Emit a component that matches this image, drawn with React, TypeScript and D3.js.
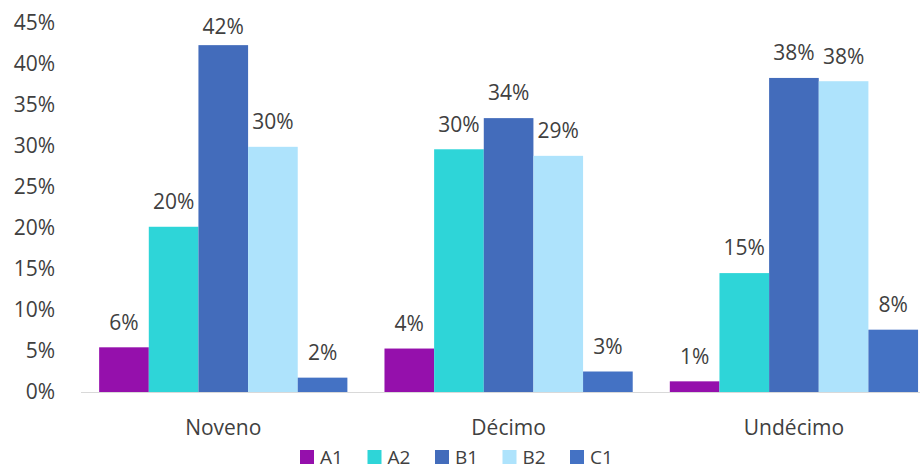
import React from "react";
import * as d3 from "d3";

const categories = ["Noveno", "Décimo", "Undécimo"];
const seriesNames = ["A1", "A2", "B1", "B2", "C1"];
const seriesColors = ["#9510AC", "#2ED5D8", "#436CBB", "#AEE3FC", "#4472C4"];
// values per series, one per category (percent)
const A1 = [5.45, 5.3, 1.3];
const A2 = [20.15, 29.6, 14.5];
const B1 = [42.3, 33.4, 38.3];
const B2 = [29.9, 28.8, 37.9];
const C1 = [1.75, 2.5, 7.6];
// printed data labels
const A1Labels = ["6%", "4%", "1%"];
const A2Labels = ["20%", "30%", "15%"];
const B1Labels = ["42%", "34%", "38%"];
const B2Labels = ["30%", "29%", "38%"];
const C1Labels = ["2%", "3%", "8%"];
const yTicks = [0, 5, 10, 15, 20, 25, 30, 35, 40, 45];

const seriesValues = [A1, A2, B1, B2, C1];
const seriesLabels = [A1Labels, A2Labels, B1Labels, B2Labels, C1Labels];

const W = 920;
const H = 469;
const FONT = "'Open Sans', 'Noto Sans', sans-serif";
const TEXT = "#404040";

export default function App() {
  const x = d3
    .scaleBand<string>()
    .domain(categories)
    .range([80.6, 936.6])
    .paddingInner(0.13)
    .paddingOuter(0.065);
  const xs = d3
    .scaleBand<string>()
    .domain(seriesNames)
    .range([0, x.bandwidth()])
    .padding(0);
  const y = d3.scaleLinear().domain([0, 45]).range([392, 23]);

  const legendX = d3.scalePoint<string>().domain(seriesNames).range([300, 570]);

  return (
    <svg
      width={W}
      height={H}
      style={{ position: "absolute", left: 0, top: 0, background: "#fff" }}
      fontFamily={FONT}
    >
      {/* y tick labels */}
      {yTicks.map((t) => (
        <text
          key={t}
          x={55}
          y={y(t)}
          dy="0.35em"
          textAnchor="end"
          fontSize={21}
          fill={TEXT}
        >
          {t + "%"}
        </text>
      ))}
      {/* bars */}
      {seriesNames.map((s, si) =>
        categories.map((c, ci) => {
          const v = seriesValues[si][ci];
          const bx = (x(c) as number) + (xs(s) as number);
          return (
            <rect
              key={s + c}
              x={bx}
              y={y(v)}
              width={xs.bandwidth()}
              height={y(0) - y(v)}
              fill={seriesColors[si]}
            />
          );
        })
      )}
      {/* baseline */}
      <line x1={81} x2={W} y1={y(0) + 0.5} y2={y(0) + 0.5} stroke="#d9d9d9" strokeWidth={1} />
      {/* data labels */}
      {seriesNames.map((s, si) =>
        categories.map((c, ci) => {
          const v = seriesValues[si][ci];
          const cx = (x(c) as number) + (xs(s) as number) + xs.bandwidth() / 2;
          const cy = Math.max(y(v) - 25, 27);
          return (
            <text
              key={"l" + s + c}
              x={cx}
              y={cy}
              dy="0.35em"
              textAnchor="middle"
              fontSize={21}
              fill={TEXT}
            >
              {seriesLabels[si][ci]}
            </text>
          );
        })
      )}
      {/* category labels */}
      {categories.map((c) => (
        <text
          key={"c" + c}
          x={(x(c) as number) + x.bandwidth() / 2}
          y={428}
          dy="0.35em"
          textAnchor="middle"
          fontSize={21}
          fill={TEXT}
        >
          {c}
        </text>
      ))}
      {/* legend */}
      {seriesNames.map((s, si) => (
        <g key={"lg" + s} transform={`translate(${legendX(s)},455)`}>
          <rect x={0} y={-5} width={14} height={14} fill={seriesColors[si]} />
          <text x={20} y={2} dy="0.35em" fontSize={19} fill={TEXT}>
            {s}
          </text>
        </g>
      ))}
    </svg>
  );
}
